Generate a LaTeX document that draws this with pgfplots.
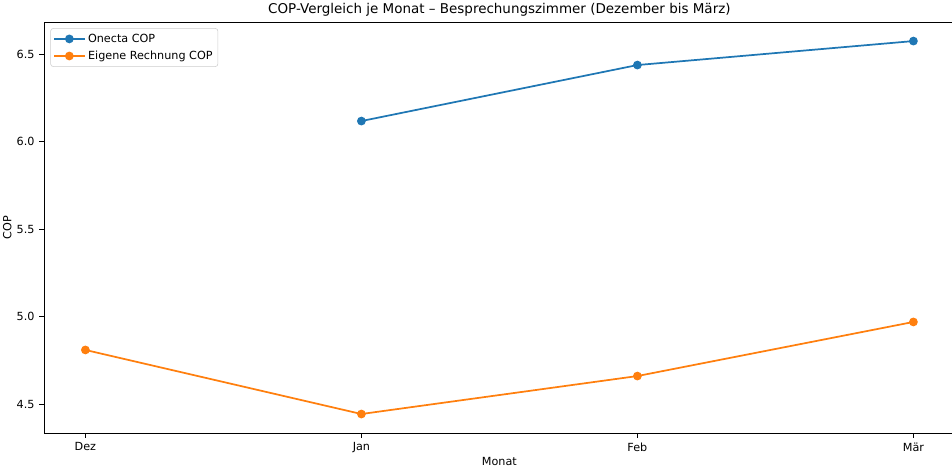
\documentclass[border=0pt]{standalone}
\usepackage{pgfplots}
\pgfplotsset{compat=1.18}
\usepackage{fontspec}
\setmainfont{DejaVu Sans}
\definecolor{cA}{HTML}{1F77B4}
\definecolor{cB}{HTML}{FF7F0E}
\begin{document}
\begin{tikzpicture}
\begin{axis}[
  at={(0,0)}, anchor=south west,
  scale only axis,
  width=683.1pt, height=308.25pt,
  xmin=-0.15, xmax=3.15,
  ymin=4.3345, ymax=6.683,
  xtick={0,1,2,3},
  xticklabels={Dez,Jan,Feb,Mär},
  ytick={4.5,5.0,5.5,6.0,6.5},
  yticklabel style={/pgf/number format/.cd,fixed,fixed zerofill,precision=1},
  /pgf/number format/assume math mode=true,
  tick label style={font=\fontsize{8.4}{10}\selectfont},
  tick align=outside,
  xtick pos=left, ytick pos=left,
  major tick length=3.6pt,
  tick style={black, line width=0.6pt},
  axis line style={line width=0.6pt},
  title={COP-Vergleich je Monat – Besprechungszimmer (Dezember bis März)},
  title style={font=\fontsize{10.1}{12}\selectfont, yshift=-5.5pt},
  xlabel={Monat},
  ylabel={COP},
  label style={font=\fontsize{8.4}{10}\selectfont},
  xlabel style={yshift=3.5pt},
  ylabel style={yshift=-3pt},
  legend pos=north west,
  legend style={font=\fontsize{8.4}{10}\selectfont, draw=black!20, rounded corners=2pt, row sep=1pt, inner sep=2pt, at={(0.007,0.985)}},
  legend cell align=left,
  legend image code/.code={\draw[mark repeat=2,mark phase=2] plot coordinates {(0cm,0cm) (0.4cm,0cm) (0.8cm,0cm)};},
]
\addplot[cA, line width=1.3pt, mark=*, mark size=2.6pt, mark options={fill=cA, draw=cA}] coordinates {
  (1,6.117) (2,6.437) (3,6.574)
};
\addlegendentry{Onecta COP}
\addplot[cB, line width=1.3pt, mark=*, mark size=2.6pt, mark options={fill=cB, draw=cB}] coordinates {
  (0,4.809) (1,4.443) (2,4.66) (3,4.969)
};
\addlegendentry{Eigene Rechnung COP}
\end{axis}
\pgfresetboundingbox
\path (-33pt,-26.25pt) rectangle (681pt,324.75pt);
\end{tikzpicture}
\end{document}
